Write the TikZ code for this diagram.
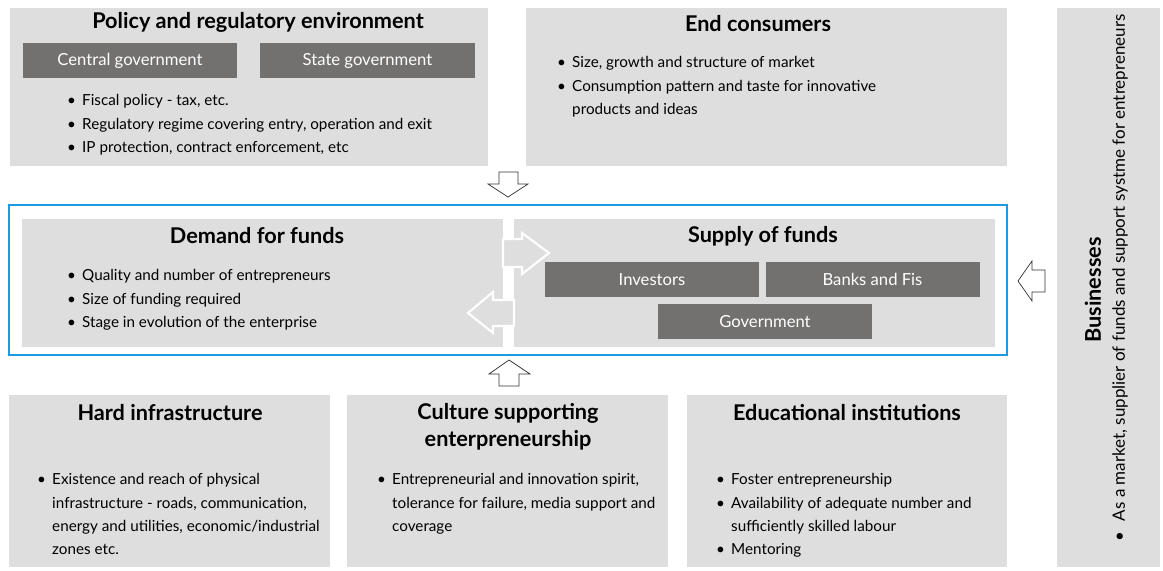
\documentclass[tikz,border=0pt]{standalone}
\usepackage{fontspec}
\setmainfont{Lato}
\definecolor{boxgrey}{HTML}{DEDEDE}
\definecolor{darkbox}{HTML}{727170}
\definecolor{frameblue}{HTML}{1B9BE0}
\newlength\bind
\setlength\bind{12.8pt}
\newcommand\bitem{\par\hangindent=\bind\hangafter=1\noindent\makebox[\bind][l]{\textbullet}}
\newcommand\blist[1]{\begin{minipage}[t]{14cm}\raggedright#1\end{minipage}}

\begin{document}
\begin{tikzpicture}[x=0.03cm,y=-0.03cm]
\tikzstyle{title}=[font=\fontsize{18.5}{23}\selectfont\bfseries,align=center,inner sep=0]
\tikzstyle{list}=[font=\fontsize{13}{19.7}\selectfont,anchor=base west,inner sep=0]
\tikzstyle{sub}=[fill=darkbox,text=white,font=\fontsize{14.2}{17}\selectfont,minimum width=6.42cm,minimum height=1.05cm,inner sep=0]
\tikzstyle{blockarrow}=[fill=white,draw=black!80,line width=0.6pt,line join=miter]
\tikzstyle{inarrow}=[fill=boxgrey,draw=white,line width=1.8pt,line join=miter]
\useasboundingbox (0,0) rectangle (1163,571);
% outer panels
\fill[boxgrey] (10,8) rectangle (488,166);
\fill[boxgrey] (526,8) rectangle (1007,166);
\fill[boxgrey] (9,395) rectangle (330,567);
\fill[boxgrey] (347,395) rectangle (668,567);
\fill[boxgrey] (687,395) rectangle (1007,567);
\fill[boxgrey] (1057,8) rectangle (1160,567);
% funds market
\draw[frameblue,line width=1.8pt] (9,205) rectangle (1007,355);
\fill[boxgrey] (22,219) rectangle (503,347);
\fill[boxgrey] (514,219) rectangle (995,347);
\draw[inarrow] (503,239) -- (522,239) -- (522,233) -- (549,253) -- (522,274) -- (522,267) -- (503,267) -- cycle;
\draw[inarrow] (514,300) -- (493,300) -- (493,292) -- (468,313) -- (493,333) -- (493,326) -- (514,326) -- cycle;

% policy
\node[title] (policy) at (258,22) {Policy and regulatory environment};
\node[sub] (central) at (130,60.5) {Central government};
\node[sub] (state) at (367.5,60.5) {State government};
\node[list] (policylist) at (67,106) {\blist{\bitem Fiscal policy - tax, etc.
\bitem Regulatory regime covering entry, operation and exit
\bitem IP protection, contract enforcement, etc}};

% consumers
\node[title] (consumers) at (758,24) {End consumers};
\node[list] (consumerlist) at (557,68) {\blist{\bitem Size, growth and structure of market
\bitem Consumption pattern and taste for innovative\newline products and ideas}};

% demand and supply
\node[title] (demand) at (257,236) {Demand for funds};
\node[list] (demandlist) at (67,281) {\blist{\bitem Quality and number of entrepreneurs
\bitem Size of funding required
\bitem Stage in evolution of the enterprise}};
\node[title] (supply) at (763,236) {Supply of funds};
\node[sub] (investors) at (652,279.5) {Investors};
\node[sub] (banks) at (872.5,279.5) {Banks and Fis};
\node[sub] (govt) at (765,321.5) {Government};

% bottom row
\node[title] (hard) at (170,413) {Hard infrastructure};
\node[list] (hardlist) at (37,485) {\blist{\bitem Existence and reach of physical\newline infrastructure - roads, communication,\newline energy and utilities, economic/industrial\newline zones etc.}};
\node[title] (culture) at (508,427) {Culture supporting\\ enterpreneurship};
\node[list] (culturelist) at (377,485) {\blist{\bitem Entrepreneurial and innovation spirit,\newline tolerance for failure, media support and\newline coverage}};
\node[title] (edu) at (847,413) {Educational institutions};
\node[list] (edulist) at (716,485) {\blist{\bitem Foster entrepreneurship
\bitem Availability of adequate number and\newline sufficiently skilled labour
\bitem Mentoring}};

% businesses
\node[title,rotate=90] (business) at (1093,290) {Businesses};
\node[font=\fontsize{14.5}{17}\selectfont,rotate=90,inner sep=0] (businesstext) at (1120,278) {\textbullet\hspace{9pt}As a market, supplier of funds and support systme for entrepreneurs};

% influence arrows
\draw[blockarrow] (499,172) -- (518,172) -- (518,184) -- (528,184) -- (508,197) -- (488,184) -- (499,184) -- cycle;
\draw[blockarrow] (499,386) -- (519,386) -- (519,374) -- (530,374) -- (509,360) -- (489,374) -- (499,374) -- cycle;
\draw[blockarrow] (1045,270) -- (1045,292) -- (1032,292) -- (1032,301) -- (1018,281) -- (1032,261) -- (1032,270) -- cycle;
\end{tikzpicture}
\end{document}
